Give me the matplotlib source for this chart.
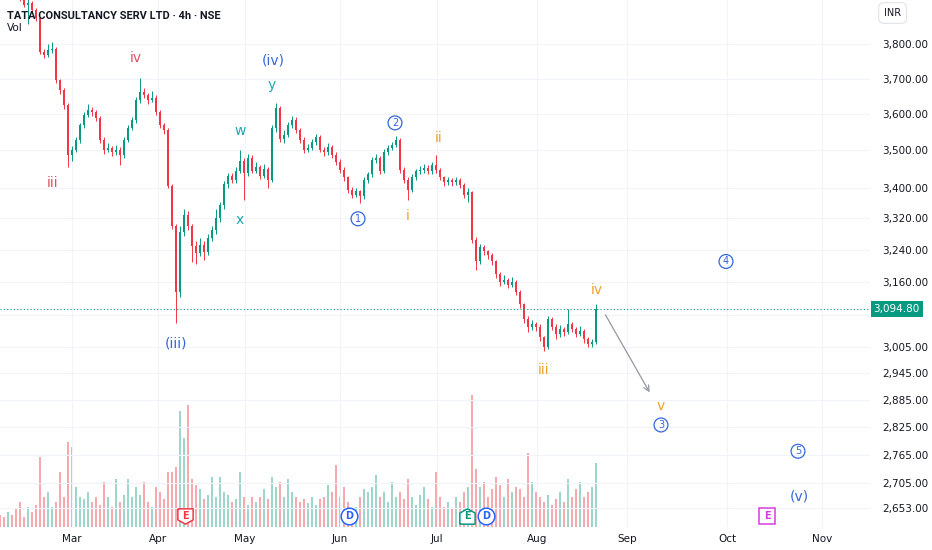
import matplotlib
matplotlib.use('Agg')
from matplotlib import pyplot as plt
from matplotlib import transforms
from matplotlib.ticker import FixedLocator, NullLocator, FuncFormatter
import numpy as np

# 4h candles, TCS (NSE)
first_open = 3990
closes = [3985, 3970, 3978, 3960, 3950, 3935, 3917, 3922, 3902, 3877,
          3777, 3768, 3782, 3785, 3695, 3667, 3625, 3488, 3501, 3528,
          3569, 3597, 3611, 3605, 3589, 3528, 3501, 3507, 3496, 3501,
          3488, 3528, 3561, 3583, 3639, 3661, 3653, 3639, 3645, 3605,
          3569, 3556, 3405, 3300, 3135, 3285, 3330, 3300, 3250, 3232,
          3253, 3235, 3271, 3290, 3320, 3355, 3410, 3430, 3420, 3445,
          3470, 3440, 3480, 3445, 3455, 3430, 3450, 3420, 3560, 3617,
          3530, 3542, 3569, 3583, 3556, 3528, 3501, 3507, 3523, 3536,
          3501, 3496, 3510, 3488, 3469, 3448, 3427, 3395, 3382, 3390,
          3377, 3421, 3435, 3474, 3480, 3443, 3496, 3507, 3515, 3528,
          3448, 3421, 3395, 3427, 3443, 3448, 3453, 3443, 3461, 3448,
          3427, 3414, 3421, 3414, 3421, 3408, 3382, 3388, 3266, 3211,
          3246, 3236, 3226, 3211, 3179, 3161, 3166, 3154, 3160, 3137,
          3106, 3070, 3052, 3059, 3052, 3028, 3005, 3070, 3052, 3035,
          3047, 3040, 3059, 3047, 3035, 3043, 3023, 3012, 3016, 3094.8]
highs = [4000, 3992, 3985, 3982, 3966, 3955, 3940, 3935, 3928, 3908,
         3882, 3785, 3800, 3805, 3790, 3700, 3672, 3630, 3512, 3535,
         3575, 3605, 3628, 3618, 3612, 3594, 3535, 3520, 3512, 3515,
         3508, 3535, 3568, 3592, 3648, 3702, 3672, 3660, 3665, 3652,
         3612, 3575, 3560, 3410, 3305, 3300, 3345, 3338, 3306, 3262,
         3270, 3262, 3280, 3300, 3345, 3362, 3418, 3438, 3440, 3455,
         3501, 3480, 3490, 3488, 3468, 3460, 3462, 3456, 3570, 3630,
         3622, 3555, 3578, 3595, 3590, 3562, 3535, 3518, 3530, 3545,
         3542, 3510, 3520, 3515, 3495, 3475, 3455, 3432, 3402, 3398,
         3395, 3428, 3442, 3482, 3490, 3485, 3502, 3515, 3522, 3540,
         3532, 3455, 3428, 3435, 3450, 3458, 3462, 3460, 3468, 3488,
         3452, 3432, 3428, 3426, 3428, 3425, 3412, 3400, 3392, 3272,
         3256, 3252, 3240, 3232, 3215, 3184, 3178, 3170, 3172, 3165,
         3142, 3110, 3078, 3068, 3065, 3058, 3032, 3078, 3075, 3058,
         3056, 3052, 3094, 3064, 3052, 3055, 3048, 3028, 3024, 3106]
lows = [3975, 3962, 3965, 3950, 3942, 3928, 3910, 3860, 3895, 3870,
        3770, 3758, 3762, 3775, 3688, 3655, 3615, 3455, 3470, 3495,
        3520, 3560, 3590, 3595, 3580, 3520, 3490, 3494, 3485, 3488,
        3460, 3480, 3522, 3555, 3575, 3630, 3645, 3628, 3632, 3598,
        3560, 3545, 3398, 3292, 3062, 3125, 3275, 3290, 3210, 3205,
        3225, 3215, 3228, 3262, 3280, 3312, 3345, 3400, 3412, 3412,
        3438, 3368, 3432, 3438, 3440, 3422, 3425, 3400, 3415, 3550,
        3522, 3520, 3535, 3560, 3548, 3520, 3492, 3494, 3500, 3515,
        3494, 3485, 3488, 3478, 3460, 3440, 3418, 3385, 3372, 3375,
        3360, 3370, 3412, 3428, 3465, 3435, 3438, 3488, 3500, 3508,
        3440, 3412, 3368, 3388, 3420, 3436, 3440, 3435, 3436, 3440,
        3420, 3405, 3408, 3405, 3408, 3398, 3372, 3362, 3258, 3190,
        3205, 3228, 3218, 3202, 3170, 3150, 3155, 3145, 3148, 3128,
        3098, 3062, 3040, 3045, 3042, 3018, 2996, 3000, 3045, 3025,
        3028, 3032, 3035, 3040, 3028, 3030, 3015, 3005, 3006, 3012]
volumes = [12, 10, 15, 12, 18, 25, 10, 20, 15, 22,
           70, 30, 35, 20, 25, 55, 30, 85, 80, 40,
           30, 28, 35, 25, 30, 22, 45, 30, 20, 48,
           25, 32, 48, 30, 40, 32, 45, 25, 20, 40,
           35, 28, 55, 55, 60, 116, 89, 122, 48, 42,
           38, 28, 32, 50, 30, 50, 35, 32, 25, 28,
           55, 30, 22, 30, 25, 30, 38, 28, 50, 40,
           45, 30, 48, 35, 30, 25, 28, 24, 30, 22,
           28, 30, 42, 35, 62, 30, 40, 25, 15, 20,
           30, 38, 35, 40, 52, 30, 35, 25, 45, 30,
           35, 28, 48, 30, 22, 32, 40, 28, 20, 55,
           30, 20, 25, 18, 30, 25, 35, 40, 132, 58,
           40, 45, 30, 38, 50, 42, 30, 48, 35, 40,
           38, 30, 74, 45, 35, 30, 25, 32, 22, 28,
           35, 25, 48, 30, 38, 45, 30, 35, 40, 64]
last_price = 3094.8

month_pos = [18, 39.5, 61.25, 85, 109.25, 134.25, 156.75, 181.75, 205.5]
month_labels = ['Mar', 'Apr', 'May', 'Jun', 'Jul', 'Aug', 'Sep', 'Oct', 'Nov']
price_ticks = [3800, 3700, 3600, 3500, 3400, 3320, 3240, 3160,
               3005, 2945, 2885, 2825, 2765, 2705, 2653]
hidden_tick = 3080   # sits under the last-price tag

RED = '#f23645'
GREEN = '#089981'
WRED = '#e0505e'
BLUE = '#3366dd'
CYAN = '#1ea5b4'
ORANGE = '#f0a12a'

# elliott wave labels: text, bar position, price, colour, circled?
waves = [('iii', 13.25, 3411, WRED, False), ('iv', 34, 3759, WRED, False),
         ('(iii)', 44, 3014, BLUE, False), ('(iv)', 68.25, 3753, BLUE, False),
         ('w', 60, 3553, CYAN, False), ('x', 60, 3317, CYAN, False),
         ('y', 68, 3681, CYAN, False),
         ('1', 89.5, 3319, BLUE, True), ('2', 98.75, 3575, BLUE, True),
         ('i', 102, 3325, ORANGE, False), ('ii', 109.75, 3534, ORANGE, False),
         ('iii', 136, 2952, ORANGE, False), ('iv', 149.25, 3140, ORANGE, False),
         ('v', 165.25, 2871, ORANGE, False),
         ('3', 165.25, 2829, BLUE, True), ('4', 181.5, 3211, BLUE, True),
         ('5', 199.5, 2772, BLUE, True), ('(v)', 199.75, 2677, BLUE, False)]
arrow_from = (151, 3087)
arrow_to = (162.75, 2896)

# events along the bottom: letter, bar position, colour, marker shape
shield_dn = [(-1, 1), (1, 1), (1, -0.45), (0, -1), (-1, -0.45), (-1, 1)]
shield_up = [(-1, -1), (1, -1), (1, 0.45), (0, 1), (-1, 0.45), (-1, -1)]
events = [('E', 46.25, RED, shield_dn), ('D', 87.25, '#2962ff', 'o'),
          ('E', 116.75, GREEN, shield_up), ('D', 121.5, '#2962ff', 'o'),
          ('E', 191.75, '#d63ce0', 's')]

opens = [first_open] + closes[:-1]
idx = np.arange(len(closes))
up = np.array(closes) >= np.array(opens)

fig = plt.figure(figsize=(9.32, 5.5), dpi=100)
axv = fig.add_axes([0, 23/550, 870/932, 527/550])
ax = fig.add_axes([0, 23/550, 870/932, 527/550], sharex=axv)
ax.set_zorder(2)
ax.patch.set_visible(False)

# volume
vcol = np.where(up, '#9fd6cc', '#f7a9ae')
axv.bar(idx, volumes, width=0.62, color=vcol)
axv.set_ylim(0, max(volumes) * 527 / 132)
axv.axis('off')

# candles
ccol = np.where(up, GREEN, RED)
ax.vlines(idx, lows, highs, colors=ccol, lw=0.7)
bottoms = np.minimum(opens, closes)
heights = np.maximum(np.abs(np.array(closes) - np.array(opens)), 1.5)
ax.bar(idx, heights, bottom=bottoms, width=0.62, color=ccol)

ax.set_yscale('log')
ax.set_ylim(2614, 3932)
ax.set_xlim(0, 217.5)
ax.yaxis.set_major_locator(FixedLocator(price_ticks))
ax.yaxis.set_minor_locator(NullLocator())
ax.yaxis.set_major_formatter(FuncFormatter(lambda v, p: f'{v:,.2f}'))
ax.yaxis.tick_right()
ax.set_xticks(month_pos)
ax.set_xticklabels(month_labels)
ax.tick_params(axis='y', length=0, pad=9, labelsize=7.5, labelcolor='#131722')
ax.tick_params(axis='x', length=0, pad=5, labelsize=7.5, labelcolor='#131722')
for s in ax.spines.values():
    s.set_visible(False)
ax.grid(True, color='#f0f3fa', lw=0.8)
ax.axhline(hidden_tick, color='#f0f3fa', lw=0.8, zorder=0)
ax.set_axisbelow(True)

# last price
ax.axhline(last_price, color=GREEN, lw=0.8, ls=(0, (1, 2)))
ax.text(1.004, last_price, f'{last_price:,.2f}', transform=transforms.blended_transform_factory(ax.transAxes, ax.transData),
        ha='left', va='center', color='white', fontsize=7.5, clip_on=False,
        bbox=dict(boxstyle='square,pad=0.28', fc=GREEN, ec='none'))

for txt, x, y, col, circ in waves:
    if circ:
        ax.text(x, y, txt, color=col, fontsize=7, ha='center', va='center',
                bbox=dict(boxstyle='circle,pad=0.2', fc='none', ec=col, lw=0.9))
    else:
        ax.text(x, y, txt, color=col, fontsize=10, ha='center', va='center')

ax.annotate('', xy=arrow_to, xytext=arrow_from,
            arrowprops=dict(arrowstyle='->', color='#9598a1', lw=0.9))

btm = transforms.blended_transform_factory(ax.transData, ax.transAxes)
for letter, x, col, mk in events:
    ms = 12 if mk == 'o' else 11
    ax.plot([x], [0.021], marker=mk, ms=ms, mfc='white', mec=col, mew=1.1,
            transform=btm, clip_on=False)
    ax.text(x, 0.021, letter, color=col, fontsize=7, fontweight='bold',
            ha='center', va='center', transform=btm)

fig.text(7/932, 1 - 16/550, 'TATA CONSULTANCY SERV LTD \u00b7 4h \u00b7 NSE',
         family='Roboto', fontweight='bold', fontsize=7.9, color='#131722', va='center')
fig.text(7/932, 1 - 28/550, 'Vol', fontsize=7.5, color='#131722', va='center')
fig.text(884/932, 1 - 13/550, 'INR', fontsize=7, color='#131722', va='center',
         bbox=dict(boxstyle='round,pad=0.55', fc='white', ec='#e0e3eb', lw=0.8))

fig.savefig('out.png', dpi=100)
